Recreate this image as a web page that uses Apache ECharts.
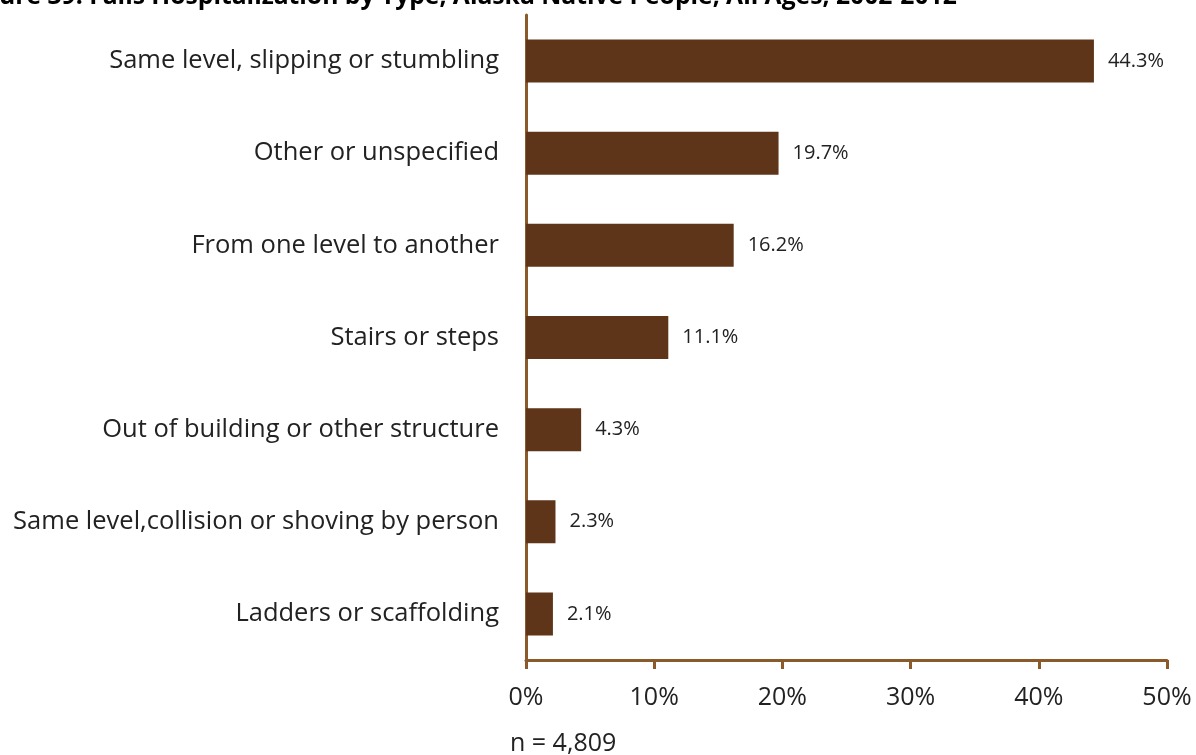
<!DOCTYPE html>
<html><head><meta charset="utf-8">
<script src="https://cdn.jsdelivr.net/npm/echarts@6/dist/echarts.min.js"></script>
<style>html,body{margin:0;padding:0;background:#fff}#c{width:1196px;height:755px}</style>
</head><body><div id="c"></div>
<script>
var categories = ["Same level, slipping or stumbling","Other or unspecified","From one level to another","Stairs or steps","Out of building or other structure","Same level,collision or shoving by person","Ladders or scaffolding"];
var values = [44.3, 19.7, 16.2, 11.1, 4.3, 2.3, 2.1];
var titleText = "Figure 39: Falls Hospitalization by Type, Alaska Native People, All Ages, 2002-2012";
var noteText = "n = 4,809";
var FONT = "'Open Sans', sans-serif";
var chart = echarts.init(document.getElementById('c'));
chart.setOption({
  animation:false,
  grid:{left:526,right:29,top:15,bottom:95,containLabel:false},
  graphic:[
    {type:'text',left:-36,top:-16,style:{text:titleText,font:"bold 24.7px "+FONT,fill:'#000'}},
    {type:'text',left:510,top:731,style:{text:noteText,font:"25px "+FONT,fill:'#222'}}
  ],
  xAxis:{type:'value',min:0,max:50,interval:10,
    axisLine:{show:true,lineStyle:{color:'#8B5A2B',width:3}},
    axisTick:{show:true,length:9,lineStyle:{color:'#8B5A2B',width:3}},
    splitLine:{show:false},
    axisLabel:{formatter:'{value}%',fontFamily:FONT,fontSize:25,color:'#222',margin:25}},
  yAxis:{type:'category',data:categories.slice().reverse(),inverse:false,
    axisLine:{show:true,lineStyle:{color:'#8B5A2B',width:3}},
    axisTick:{show:false},
    axisLabel:{fontFamily:FONT,fontSize:25.5,color:'#222',margin:27,padding:[4,0,0,0]}},
  series:[{type:'bar',data:values.slice().reverse(),barWidth:43,
    itemStyle:{color:'#5E3518'},
    label:{show:true,position:'right',distance:14,formatter:function(p){return p.value.toFixed(1)+'%';},fontFamily:FONT,fontSize:20,color:'#222'}}]
});
</script></body></html>
